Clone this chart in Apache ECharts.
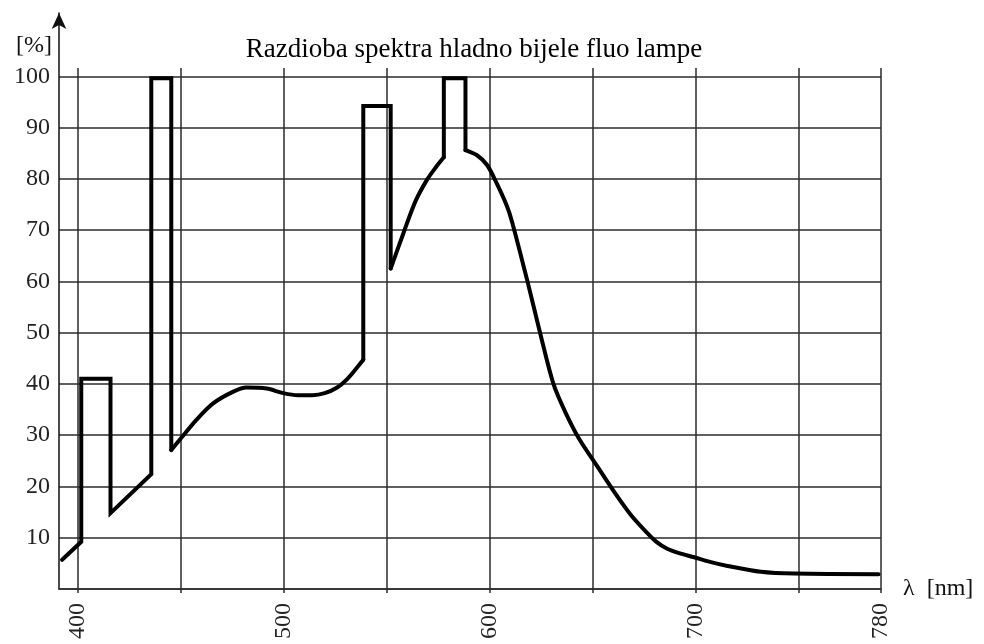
<!DOCTYPE html>
<html>
<head>
<meta charset="utf-8">
<script src="https://cdn.jsdelivr.net/npm/echarts@6/dist/echarts.min.js"></script>
<style>
html,body{margin:0;padding:0;background:#fff;}
#c{width:984px;height:644px;}
</style>
</head>
<body>
<div id="c"></div>
<script>
// ---- data ----
var chartTitle = 'Razdioba spektra hladno bijele fluo lampe';
var yUnit = '[%]';
var xName = 'λ  [nm]';
var wavelength = [392.5, 401.8, 401.8, 416, 416, 435.8, 435.8, 445.5, 445.5, 451, 457.7, 465.8, 475.6, 482, 491.8, 499.9, 507, 514, 520, 526, 531, 535.5, 538.7, 538.7, 552, 552, 558, 564, 569.6, 574, 577.8, 577.8, 588.3, 588.3, 593.9, 598.8, 603.6, 608.5, 611, 618.4, 624.5, 631, 637, 643.3, 652.3, 660.4, 668.5, 676.6, 681, 686, 692, 699.3, 707, 715.5, 731.7, 748, 788.8];
var intensity  = [5.7, 9.2, 41, 41, 14.8, 22.4, 99.6, 99.6, 27.1, 29.8, 33, 36.2, 38.5, 39.3, 39.1, 38.2, 37.8, 37.8, 38.2, 39.3, 41.0, 43.1, 44.7, 94.2, 94.2, 62.5, 69.2, 75.6, 79.8, 82.3, 84.2, 99.6, 99.6, 85.6, 84.6, 82.7, 79.0, 74.6, 71.5, 60, 50, 40, 34.3, 29.4, 23.9, 19.0, 14.5, 10.9, 9.2, 7.9, 7.0, 6.2, 5.3, 4.5, 3.35, 3.0, 2.9];
// index ranges [from, to] of the spectrum: straight (lines) vs. rounded (continuous) parts
var straightParts = [[0, 8], [22, 25], [30, 33]];
var curvedParts   = [[8, 22], [25, 30], [33, 56]];
var xGridValues = [400, 450, 500, 550, 600, 650, 700, 750, 790];
var xLabelValues = [400, 500, 600, 700, 790];
var xLabelTexts = ['400', '500', '600', '700', '780'];
var yLabelValues = [10, 20, 30, 40, 50, 60, 70, 80, 90, 100];

function part(r) {
  var out = [];
  for (var i = r[0]; i <= r[1]; i++) out.push([wavelength[i], intensity[i]]);
  return out;
}

var serif = '"Liberation Serif", "DejaVu Serif", serif';
var gridColor = '#2b2b2b';
var lineStyle = {color: '#000', width: 4, join: 'miter', cap: 'round'};

var series = [];
straightParts.forEach(function (r) {
  series.push({type: 'line', xAxisIndex: 1, yAxisIndex: 1, data: part(r), showSymbol: false,
    smooth: false, lineStyle: lineStyle});
});
curvedParts.forEach(function (r) {
  series.push({type: 'line', xAxisIndex: 1, yAxisIndex: 1, data: part(r), showSymbol: false,
    smooth: 0.3, lineStyle: lineStyle});
});

var chart = echarts.init(document.getElementById('c'), null, {renderer: 'canvas'});
chart.setOption({
  animation: false,
  backgroundColor: '#fff',
  title: [
    {text: chartTitle, left: 469, top: 31, textAlign: 'center',
     textStyle: {fontFamily: serif, fontSize: 27, fontWeight: 'normal', color: '#000'}},
    {text: yUnit, left: 11, top: 29,
     textStyle: {fontFamily: serif, fontSize: 24, fontWeight: 'normal', color: '#111'}}
  ],
  grid: [
    {left: 59, right: 103, top: 68, bottom: 55},
    {left: 59, right: 103, top: 76.3, bottom: 55},
    {left: 59, width: 1, top: 13, bottom: 55}
  ],
  xAxis: [
    {gridIndex: 0, type: 'value', min: 391, max: 790,
     name: xName, nameLocation: 'end', nameGap: 22,
     nameTextStyle: {fontFamily: serif, fontSize: 24, color: '#111', padding: [16, 0, 0, 0]},
     axisLine: {show: true, onZero: false, lineStyle: {color: gridColor, width: 1.5}},
     axisTick: {show: true, customValues: xGridValues, length: 4, lineStyle: {color: gridColor, width: 1.5}},
     splitLine: {show: true, lineStyle: {color: gridColor, width: 1.5}},
     axisLabel: {show: true, customValues: xLabelValues, rotate: 90, margin: 14,
       fontFamily: serif, fontSize: 24, color: '#222',
       formatter: function (v) { var i = xLabelValues.indexOf(v); return i >= 0 ? xLabelTexts[i] : ''; }}
    },
    {gridIndex: 1, type: 'value', min: 391, max: 790, show: false},
    {gridIndex: 2, type: 'value', min: 0, max: 1, show: false}
  ],
  yAxis: [
    {gridIndex: 0, type: 'value', min: 0, max: 101.6, show: false, splitLine: {show: false}},
    {gridIndex: 1, type: 'value', min: 0, max: 100, interval: 10,
     axisLine: {show: false}, axisTick: {show: false},
     splitLine: {show: true, lineStyle: {color: gridColor, width: 1.5}},
     axisLabel: {show: true, customValues: yLabelValues, margin: 9,
       fontFamily: serif, fontSize: 24, color: '#222'}},
    {gridIndex: 2, type: 'value', min: 0, max: 1,
     axisLine: {show: true, symbol: ['none', 'arrow'], symbolSize: [11, 16], symbolOffset: [0, 0],
       lineStyle: {color: '#111', width: 1.5}},
     axisTick: {show: false}, axisLabel: {show: false}, splitLine: {show: false}}
  ],
  series: series
});
</script>
</body>
</html>
